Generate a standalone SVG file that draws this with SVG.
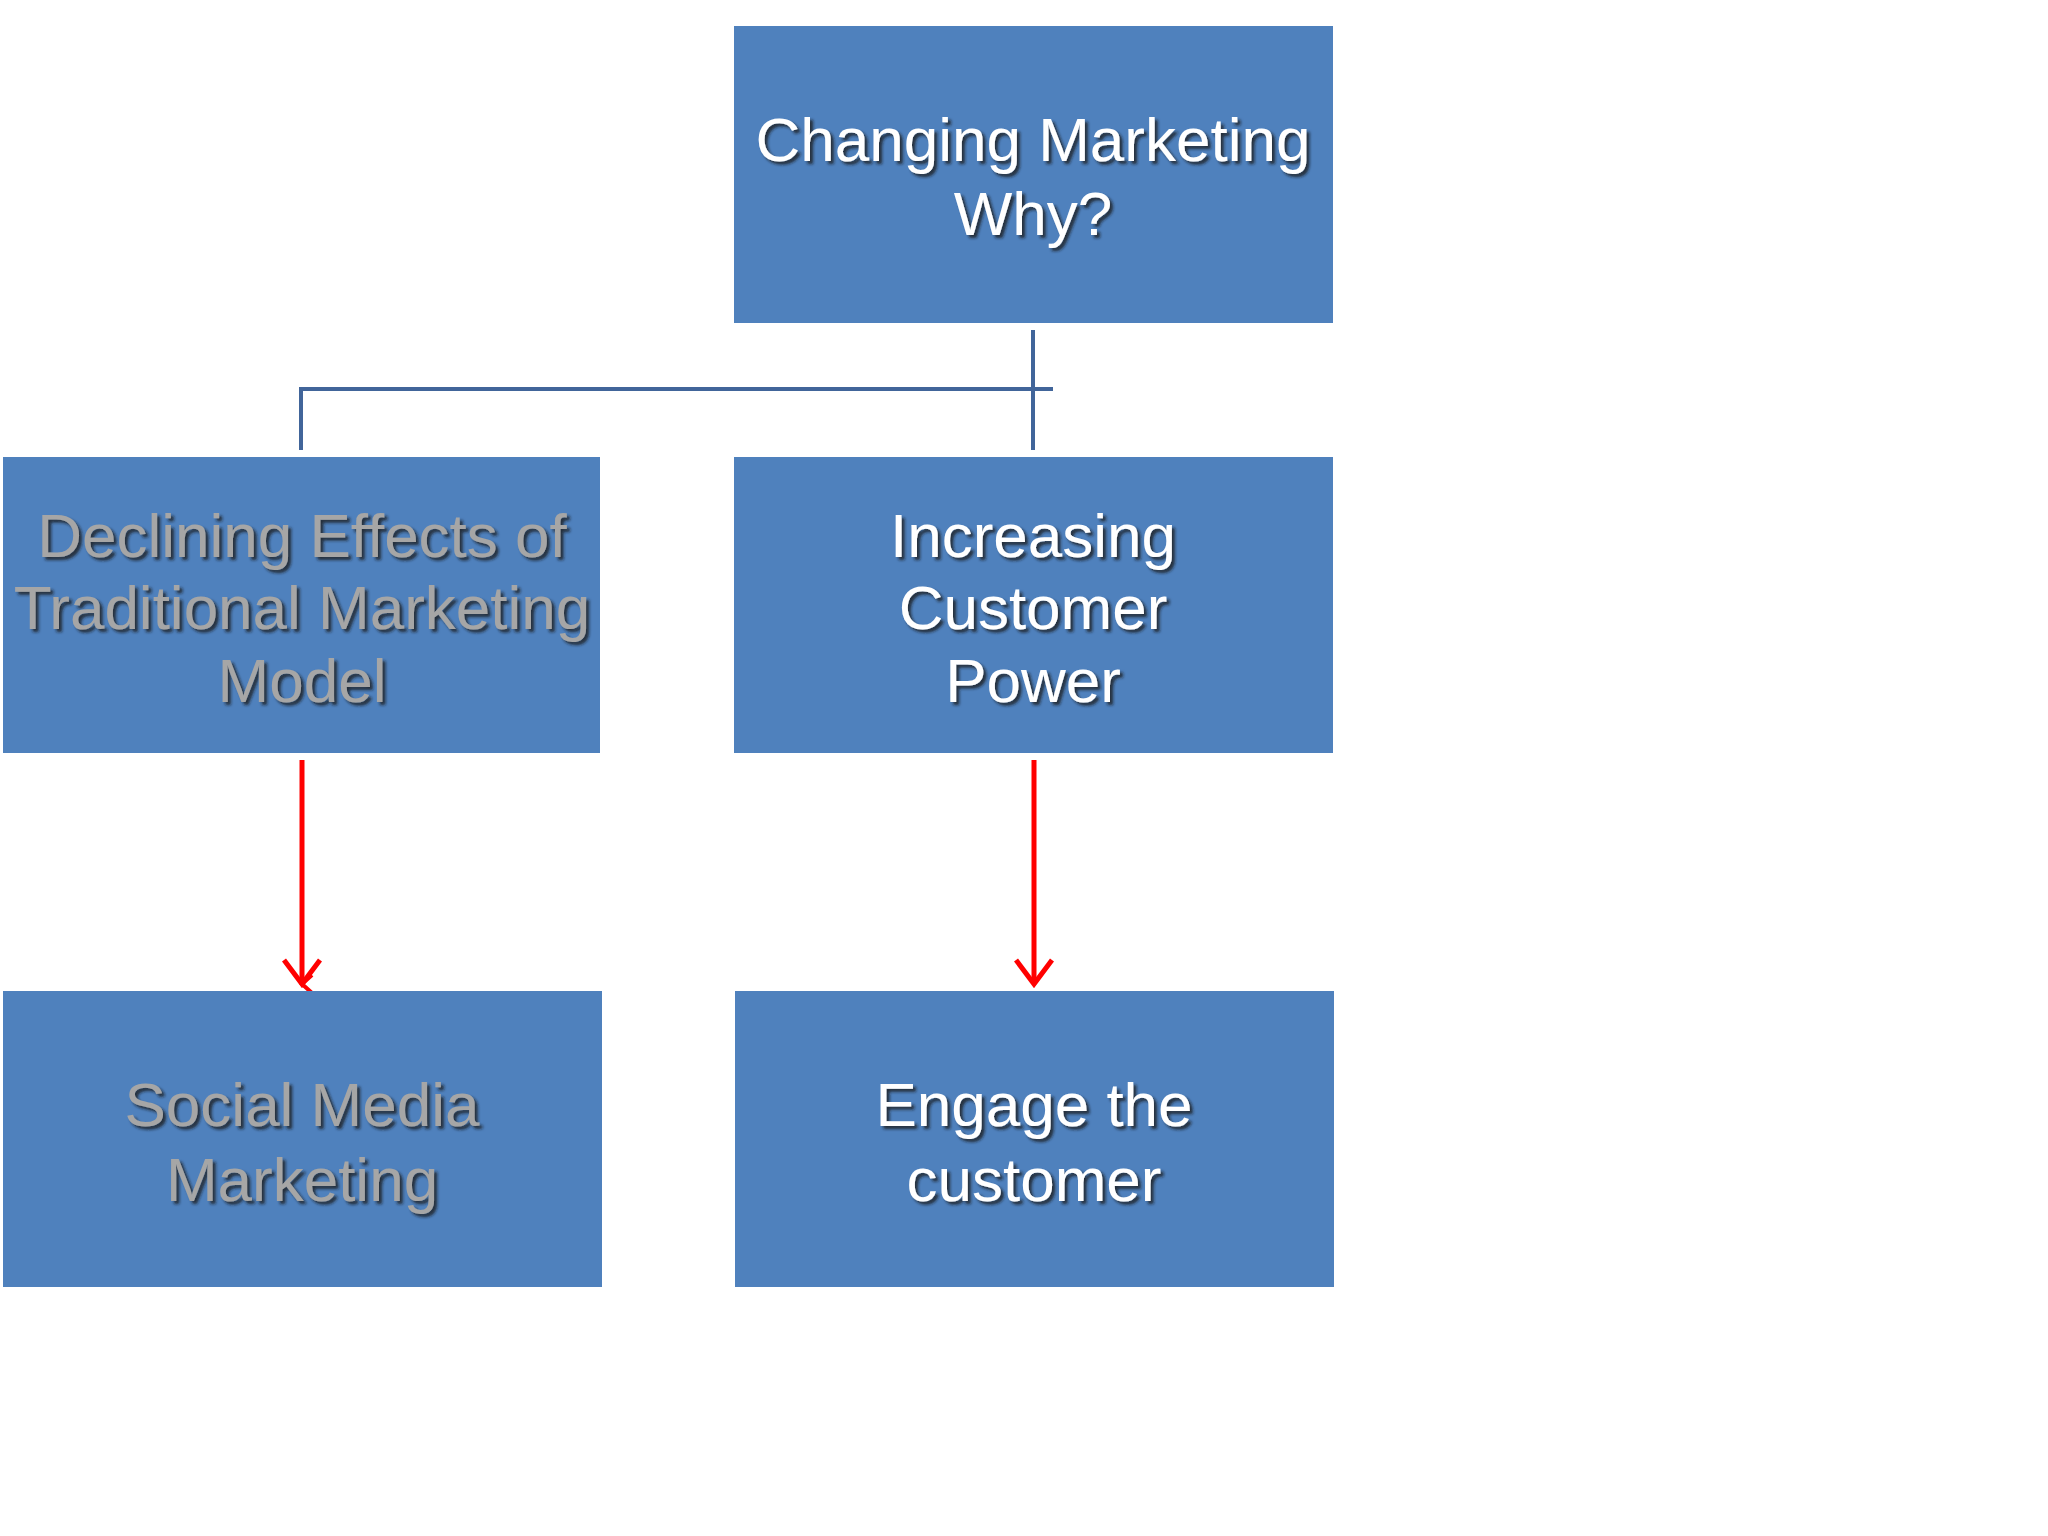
<svg xmlns="http://www.w3.org/2000/svg" width="2048" height="1536" viewBox="0 0 2048 1536">
<defs>
<filter id="sh" x="-10%" y="-10%" width="120%" height="130%"><feDropShadow dx="3" dy="3" stdDeviation="1.5" flood-color="#1a1a1a" flood-opacity="0.8"/></filter>
<marker id="ah" markerWidth="20" markerHeight="20" refX="10" refY="12" orient="auto" markerUnits="userSpaceOnUse" viewBox="0 0 20 20"><path d="M1,2 L10,12 L19,2" fill="none" stroke="#ff0000" stroke-width="4"/></marker>
</defs>
<style>
.box{fill:#4f81bd}
.t{font-family:"Liberation Sans",Arial,sans-serif;font-size:62px;text-anchor:middle;filter:url(#sh)}
.w{fill:#ffffff}
.g{fill:#a6a6a6}
.c{stroke:#41659a;stroke-width:4;fill:none}
.r{stroke:#ff0000;stroke-width:5;fill:none}
</style>
<rect width="2048" height="1536" fill="#ffffff"/>
<g id="connectors">
<path class="c" d="M1033,330 V450 M301,450 V389 H1053"/>
<path class="r" d="M302,760 V984" marker-end="url(#ah)" transform=""/>
<path class="r" d="M1034,760 V984"/>
<path d="M284,960 L302,984 L320,960 M1016,960 L1034,984 L1052,960" fill="none" stroke="#ff0000" stroke-width="5"/>
</g>
<g id="top"><rect class="box" x="734" y="26" width="599" height="297"/>
<text class="t w" x="1033" y="161">Changing Marketing</text><text class="t w" x="1033" y="235">Why?</text></g>
<g id="declining"><rect class="box" x="3" y="457" width="597" height="296"/>
<text class="t g" x="302" y="557">Declining Effects of</text><text class="t g" x="302" y="629">Traditional Marketing</text><text class="t g" x="302" y="702">Model</text></g>
<g id="increasing"><rect class="box" x="734" y="457" width="599" height="296"/>
<text class="t w" x="1033" y="557">Increasing</text><text class="t w" x="1033" y="629">Customer</text><text class="t w" x="1033" y="702">Power</text></g>
<g id="social"><rect class="box" x="3" y="991" width="599" height="296"/>
<text class="t g" x="302" y="1126">Social Media</text><text class="t g" x="302" y="1201">Marketing</text></g>
<g id="engage"><rect class="box" x="735" y="991" width="599" height="296"/>
<text class="t w" x="1034" y="1126">Engage the</text><text class="t w" x="1034" y="1201">customer</text></g>
</svg>
